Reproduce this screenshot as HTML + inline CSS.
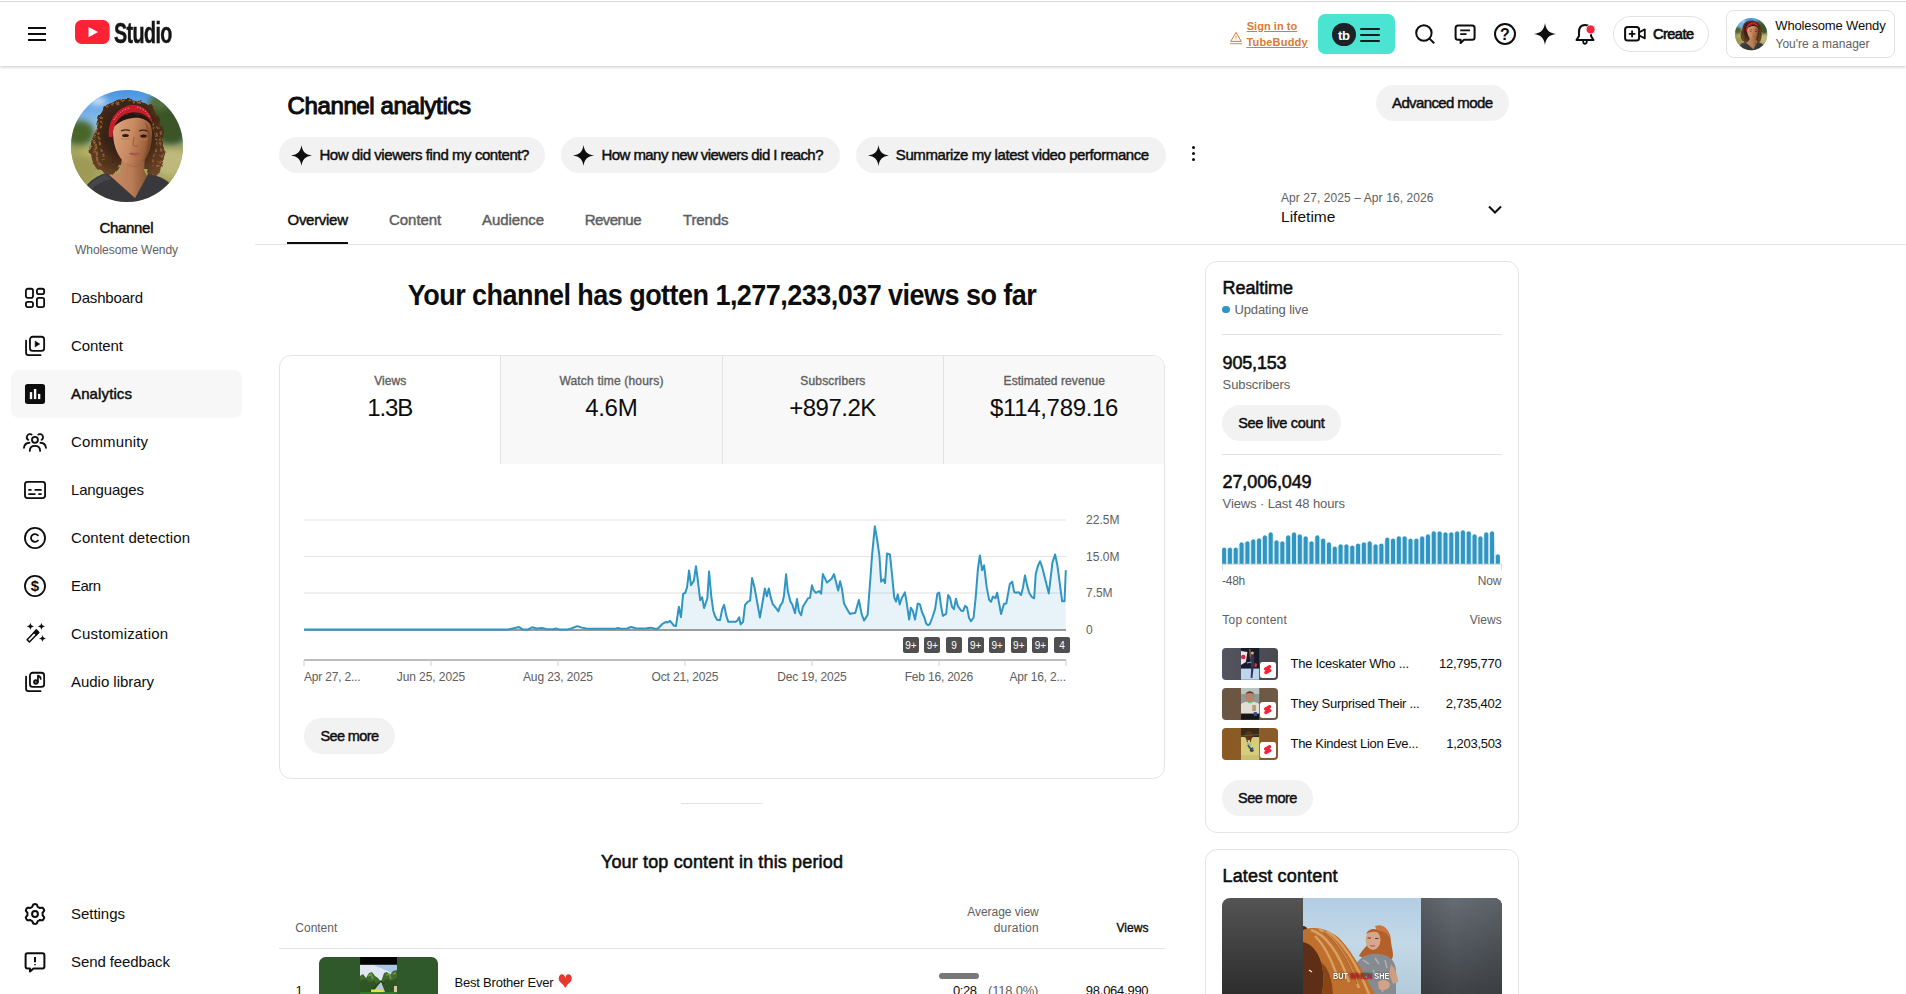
<!DOCTYPE html>
<html lang="en"><head><meta charset="utf-8"><title>Channel analytics - YouTube Studio</title>
<style>
html,body{margin:0;padding:0}
html{overflow:hidden}
body{width:1906px;height:994px;overflow:hidden;background:#fff;position:relative;
 font-family:"Liberation Sans",sans-serif;color:#0d0d0d;}
.t{position:absolute;white-space:nowrap;line-height:normal;margin:0;padding:0}
.a{position:absolute}
.pill{position:absolute;background:#f2f2f2;border-radius:18px}
.card{position:absolute;border:1px solid #e4e4e4;border-radius:12px;box-sizing:border-box;background:#fff}
.hl{position:absolute;height:1px;background:#e2e2e2}
svg{position:absolute;overflow:visible}
.ic{fill:none;stroke:#0d0d0d;stroke-width:1.6;stroke-linecap:round;stroke-linejoin:round}
</style></head><body>

<div class="a" style="left:0;top:0;width:1906px;height:66px;background:#fff;box-shadow:0 1px 3px rgba(0,0,0,.22);"></div>
<div class="a" style="left:0;top:1px;width:1906px;height:1px;background:#dadada"></div>
<div class="a" style="left:28px;top:27px;width:18px;height:2px;background:#0d0d0d"></div>
<div class="a" style="left:28px;top:33px;width:18px;height:2px;background:#0d0d0d"></div>
<div class="a" style="left:28px;top:39px;width:18px;height:2px;background:#0d0d0d"></div>
<svg style="left:75px;top:20px" width="35" height="24" viewBox="0 0 35 24"><rect x="0" y="0" width="34.6" height="24" rx="6.5" ry="6.5" fill="#fd2335"/><path d="M13.5 7 L23 12 L13.5 17.2 Z" fill="#fff"/></svg>
<div class="t" id="studio" style="top:17px;font-size:29px;font-weight:700;color:#151515;letter-spacing:-0.864px;left:113.8px;transform-origin:0 50%;transform:scaleX(0.68);-webkit-text-stroke:0.5px #151515;">Studio</div>
<div class="t" id="tb1" style="top:19.6px;font-size:11px;font-weight:700;color:#dc7a31;letter-spacing:0.055px;left:1246.7px;text-decoration:underline;text-underline-offset:1px;">Sign in to</div>
<div class="t" id="tb2" style="top:35.6px;font-size:11px;font-weight:700;color:#dc7a31;letter-spacing:0.189px;left:1246.4px;text-decoration:underline;text-underline-offset:1px;">TubeBuddy</div>
<svg style="left:1229px;top:30px" width="14" height="14" viewBox="0 0 14 14"><path d="M7 2.400 L12.300 11.400 H1.700 Z" fill="none" stroke="#dc7a31" stroke-width="1" stroke-linejoin="round"/><path d="M7 5.600 V8.400 M7 9.400 V10.100" stroke="#dc7a31" stroke-width="0.900" fill="none"/><path d="M1 13.700 H13" stroke="#dc7a31" stroke-width="0.900"/></svg>
<div class="a" style="left:1318px;top:14px;width:77px;height:40px;border-radius:7px;background:#4be3d1"></div>
<div class="a" style="left:1332px;top:22.600px;width:23.800px;height:23.800px;border-radius:12px;background:#1d2226"></div>
<div class="t" id="tbl" style="top:27.6px;font-size:13px;font-weight:700;color:#fff;letter-spacing:-0.281px;left:1338px;">tb</div>
<div class="a" style="left:1360px;top:28px;width:20px;height:2px;border-radius:1px;background:#1c1c1c"></div>
<div class="a" style="left:1360px;top:34px;width:20px;height:2px;border-radius:1px;background:#1c1c1c"></div>
<div class="a" style="left:1360px;top:40px;width:20px;height:2px;border-radius:1px;background:#1c1c1c"></div>
<svg style="left:1413px;top:22px" width="24" height="24" viewBox="0 0 24 24"><circle cx="10.900" cy="11" r="7.700" class="ic" style="stroke-width:2"/><path d="M16.500 16.600 L21.200 21.200" class="ic" style="stroke-width:2;stroke-linecap:butt"/></svg>
<svg style="left:1453px;top:22px" width="24" height="24" viewBox="0 0 24 24"><path d="M5 3.500 H19.200 Q21.600 3.500 21.600 6 V15.200 Q21.600 17.700 19.200 17.700 H11 L7.600 21 V17.700 H5 Q2.600 17.700 2.600 15.200 V6 Q2.600 3.500 5 3.500 Z" class="ic" style="stroke-width:2"/><path d="M7.200 8.400 H17 M7.200 12.100 H13.500" class="ic" style="stroke-width:1.900;stroke-linecap:butt"/></svg>
<svg style="left:1493px;top:22px" width="24" height="24" viewBox="0 0 24 24"><circle cx="12" cy="12" r="10" class="ic" style="stroke-width:2"/></svg>
<div class="t" id="q" style="top:26px;font-size:16px;font-weight:700;left:1505px;transform:translateX(-50%);">?</div>
<svg style="left:1533px;top:22px" width="24" height="24" viewBox="0 0 24 24"><path d="M12 1 C13 8 16 11 23 12 C16 13 13 16 12 23 C11 16 8 13 1 12 C8 11 11 8 12 1 Z" fill="#0d0d0d"/></svg>
<svg style="left:1573px;top:22px" width="24" height="24" viewBox="0 0 24 24"><path d="M12 3 C8 3 6 6 6 10 V14 L3.5 18 H20.5 L18 14 V10 C18 6 16 3 12 3 Z" class="ic" style="stroke-width:2"/><path d="M10.200 19.500 Q10.300 21.800 12 21.800 Q13.700 21.800 13.800 19.500" class="ic" style="stroke-width:1.800"/><circle cx="17.600" cy="7.400" r="4.500" fill="#f8243c" stroke="#fff" stroke-width="0.800"/></svg>
<div class="a" style="left:1613px;top:16px;width:96px;height:36px;border-radius:18px;border:1px solid #e2e2e2;box-sizing:border-box"></div>
<svg style="left:1623px;top:23px" width="26" height="22" viewBox="0 0 26 22"><rect x="2.100" y="4.100" width="14" height="13.500" rx="2.600" class="ic" style="stroke-width:2"/><path d="M16.300 9.300 L21.800 6.400 V15.400 L16.300 12.500" class="ic" style="stroke-width:1.800"/><path d="M9.100 7.600 V14.200 M5.800 10.900 H12.400" class="ic" style="stroke-width:1.900;stroke-linecap:butt"/></svg>
<div class="t" id="create" style="top:26px;font-size:14.5px;-webkit-text-stroke:0.65px;letter-spacing:-0.506px;left:1653px;">Create</div>
<div class="a" style="left:1726px;top:10px;width:169px;height:48px;border-radius:8px;border:1px solid #e2e2e2;box-sizing:border-box"></div>
<div class="t" id="acc1" style="top:18.4px;font-size:13px;letter-spacing:-0.149px;left:1775.3px;">Wholesome Wendy</div>
<div class="t" id="acc2" style="top:36.8px;font-size:12px;color:#606060;letter-spacing:0.005px;left:1775.5px;">You&#x27;re a manager</div>
<svg style="left:1734.5px;top:18px" width="32.3" height="32.3" viewBox="4 4 112 112">
<defs><clipPath id="chdav"><circle cx="60" cy="60" r="56"/></clipPath>
<filter id="bhdav" x="-10%" y="-10%" width="120%" height="120%"><feGaussianBlur stdDeviation="0.7"/></filter>
<filter id="bbhdav" x="-20%" y="-20%" width="140%" height="140%"><feGaussianBlur stdDeviation="3"/></filter>
<filter id="cuhdav" x="-10%" y="-10%" width="120%" height="120%"><feTurbulence type="fractalNoise" baseFrequency="0.11" numOctaves="2" seed="7" result="n"/><feDisplacementMap in="SourceGraphic" in2="n" scale="7" xChannelSelector="R" yChannelSelector="G"/><feGaussianBlur stdDeviation="0.45"/></filter>
<linearGradient id="skhdav" x1="0" y1="0" x2="0" y2="1"><stop offset="0" stop-color="#3f8ee0"/><stop offset="0.22" stop-color="#74b0ea"/><stop offset="0.42" stop-color="#b4d3f0"/><stop offset="0.52" stop-color="#93a45a"/><stop offset="1" stop-color="#a9a660"/></linearGradient>
<radialGradient id="hrhdav" cx="0.5" cy="0.4" r="0.65"><stop offset="0" stop-color="#1f120b"/><stop offset="0.55" stop-color="#3f2616"/><stop offset="1" stop-color="#6b4226"/></radialGradient>
<linearGradient id="fchdav" x1="0" y1="0.2" x2="1" y2="0.5"><stop offset="0" stop-color="#dca57e"/><stop offset="0.5" stop-color="#c78961"/><stop offset="0.85" stop-color="#a2643f"/><stop offset="1" stop-color="#7d4a2c"/></linearGradient>
<linearGradient id="nkhdav" x1="0" y1="0" x2="1" y2="0"><stop offset="0" stop-color="#c88e68"/><stop offset="0.6" stop-color="#b97c55"/><stop offset="1" stop-color="#8a5535"/></linearGradient>
</defs>
<g clip-path="url(#chdav)">
<rect x="0" y="0" width="120" height="120" fill="url(#skhdav)"/>
<g filter="url(#bbhdav)">
<ellipse cx="104" cy="30" rx="24" ry="30" fill="#3a5426"/>
<ellipse cx="92" cy="16" rx="10" ry="8" fill="#55703a"/>
<ellipse cx="12" cy="47" rx="16" ry="13" fill="#48662a"/>
<ellipse cx="31" cy="15" rx="9" ry="3.500" fill="#e6eef8"/>
<rect x="0" y="62" width="120" height="44" fill="#a6a55c"/>
<ellipse cx="104" cy="76" rx="18" ry="14" fill="#bdb97c"/>
<ellipse cx="14" cy="84" rx="14" ry="16" fill="#9c9a55"/>
<ellipse cx="22" cy="66" rx="10" ry="5" fill="#b6b26a"/>
</g>
<g filter="url(#cuhdav)">
<path d="M60 13 C42 12 30 26 29 44 C21 56 22 76 32 85 C40 92 50 89 53 80 L79 82 C81 94 90 93 93 82 C99 66 98 46 93 36 C89 22 77 13 60 13 Z" fill="url(#hrhdav)"/>
<path d="M31 38 C26 50 26 66 33 78 M36 30 C31 42 31 60 37 74 M91 40 C96 54 95 70 90 82 M86 36 C91 50 90 68 86 80 M40 22 C48 14 62 13 74 17 M28 56 C27 64 30 74 36 82" stroke="#a36c38" stroke-width="2.200" fill="none" opacity=".75" stroke-dasharray="3 2.500"/>
</g>
<g filter="url(#bhdav)">
<path d="M55 72 L53 86 L42 90 L68 112 L80 90 L77 84 L78 70 Z" fill="url(#nkhdav)"/>
<path d="M20 99 C26 92 34 88 40 87 L68 112 L81 88 C90 89 100 93 105 100 L112 120 L8 120 Z" fill="#39393c"/>
<path d="M22 99 C28 93 34 90 39 88 L44 93 C36 95 28 99 24 104 Z" fill="#47474b"/>
<path d="M46 45 C46 33 56 27 68 28 C78 29 85 35 85 47 C85 59 82 70 75 77 C69 82 61 81 56 75 C49 67 46 57 46 45 Z" fill="url(#fchdav)"/>
<path d="M46 42 C48 32 57 27 68 28 C77 28 83 33 85 40 C80 33 73 31 66 32 C57 33 50 37 46 42 Z" fill="#24150d"/>
<path d="M42 51 C40 37 49 21 64 19 C76 18 84 26 86 38 C82 30 74 25 64 26.500 C52 28.500 46 38 45.500 51 Z" fill="#c31f2b"/>
<path d="M47 34 C51 27 57 23 63 22 M70 21 C76 22 81 27 83 32" stroke="#e8a0a0" stroke-width="0.800" fill="none" stroke-dasharray="1.500 1.500"/>
<path d="M54 45 C57 43.500 60 43.500 63 44.500 M72 45 C75 43.800 78 44 81 45.500" stroke="#3a2216" stroke-width="1.300" fill="none"/>
<ellipse cx="58.500" cy="49.600" rx="3.300" ry="1.500" fill="#2a1810"/><ellipse cx="76.500" cy="50" rx="3.200" ry="1.500" fill="#2a1810"/><path d="M54 52.500 Q58.500 54 63 52.500 M72 53 Q76.500 54.500 81 53" stroke="#b07858" stroke-width="0.900" fill="none"/>
<path d="M67 51 L66 59 Q68 61.500 71 59.500" stroke="#9c5f40" stroke-width="1.100" fill="none"/>
<path d="M61.500 67.500 Q64.500 66 67.500 67 Q70.500 66 74 67.500 Q68 72 61.500 67.500 Z" fill="#a9584f"/>
<path d="M78 36 C86 44 86 62 76 76 C82 64 82 48 78 36 Z" fill="#7a4628" opacity=".55"/><path d="M60 78 Q68 84 76 77" stroke="#9c6040" stroke-width="1" fill="none" opacity=".6"/>
</g></g></svg>
<svg style="left:71px;top:90px" width="112" height="112" viewBox="4 4 112 112">
<defs><clipPath id="csdav"><circle cx="60" cy="60" r="56"/></clipPath>
<filter id="bsdav" x="-10%" y="-10%" width="120%" height="120%"><feGaussianBlur stdDeviation="0.7"/></filter>
<filter id="bbsdav" x="-20%" y="-20%" width="140%" height="140%"><feGaussianBlur stdDeviation="3"/></filter>
<filter id="cusdav" x="-10%" y="-10%" width="120%" height="120%"><feTurbulence type="fractalNoise" baseFrequency="0.11" numOctaves="2" seed="7" result="n"/><feDisplacementMap in="SourceGraphic" in2="n" scale="7" xChannelSelector="R" yChannelSelector="G"/><feGaussianBlur stdDeviation="0.45"/></filter>
<linearGradient id="sksdav" x1="0" y1="0" x2="0" y2="1"><stop offset="0" stop-color="#3f8ee0"/><stop offset="0.22" stop-color="#74b0ea"/><stop offset="0.42" stop-color="#b4d3f0"/><stop offset="0.52" stop-color="#93a45a"/><stop offset="1" stop-color="#a9a660"/></linearGradient>
<radialGradient id="hrsdav" cx="0.5" cy="0.4" r="0.65"><stop offset="0" stop-color="#1f120b"/><stop offset="0.55" stop-color="#3f2616"/><stop offset="1" stop-color="#6b4226"/></radialGradient>
<linearGradient id="fcsdav" x1="0" y1="0.2" x2="1" y2="0.5"><stop offset="0" stop-color="#dca57e"/><stop offset="0.5" stop-color="#c78961"/><stop offset="0.85" stop-color="#a2643f"/><stop offset="1" stop-color="#7d4a2c"/></linearGradient>
<linearGradient id="nksdav" x1="0" y1="0" x2="1" y2="0"><stop offset="0" stop-color="#c88e68"/><stop offset="0.6" stop-color="#b97c55"/><stop offset="1" stop-color="#8a5535"/></linearGradient>
</defs>
<g clip-path="url(#csdav)">
<rect x="0" y="0" width="120" height="120" fill="url(#sksdav)"/>
<g filter="url(#bbsdav)">
<ellipse cx="104" cy="30" rx="24" ry="30" fill="#3a5426"/>
<ellipse cx="92" cy="16" rx="10" ry="8" fill="#55703a"/>
<ellipse cx="12" cy="47" rx="16" ry="13" fill="#48662a"/>
<ellipse cx="31" cy="15" rx="9" ry="3.500" fill="#e6eef8"/>
<rect x="0" y="62" width="120" height="44" fill="#a6a55c"/>
<ellipse cx="104" cy="76" rx="18" ry="14" fill="#bdb97c"/>
<ellipse cx="14" cy="84" rx="14" ry="16" fill="#9c9a55"/>
<ellipse cx="22" cy="66" rx="10" ry="5" fill="#b6b26a"/>
</g>
<g filter="url(#cusdav)">
<path d="M60 13 C42 12 30 26 29 44 C21 56 22 76 32 85 C40 92 50 89 53 80 L79 82 C81 94 90 93 93 82 C99 66 98 46 93 36 C89 22 77 13 60 13 Z" fill="url(#hrsdav)"/>
<path d="M31 38 C26 50 26 66 33 78 M36 30 C31 42 31 60 37 74 M91 40 C96 54 95 70 90 82 M86 36 C91 50 90 68 86 80 M40 22 C48 14 62 13 74 17 M28 56 C27 64 30 74 36 82" stroke="#a36c38" stroke-width="2.200" fill="none" opacity=".75" stroke-dasharray="3 2.500"/>
</g>
<g filter="url(#bsdav)">
<path d="M55 72 L53 86 L42 90 L68 112 L80 90 L77 84 L78 70 Z" fill="url(#nksdav)"/>
<path d="M20 99 C26 92 34 88 40 87 L68 112 L81 88 C90 89 100 93 105 100 L112 120 L8 120 Z" fill="#39393c"/>
<path d="M22 99 C28 93 34 90 39 88 L44 93 C36 95 28 99 24 104 Z" fill="#47474b"/>
<path d="M46 45 C46 33 56 27 68 28 C78 29 85 35 85 47 C85 59 82 70 75 77 C69 82 61 81 56 75 C49 67 46 57 46 45 Z" fill="url(#fcsdav)"/>
<path d="M46 42 C48 32 57 27 68 28 C77 28 83 33 85 40 C80 33 73 31 66 32 C57 33 50 37 46 42 Z" fill="#24150d"/>
<path d="M42 51 C40 37 49 21 64 19 C76 18 84 26 86 38 C82 30 74 25 64 26.500 C52 28.500 46 38 45.500 51 Z" fill="#c31f2b"/>
<path d="M47 34 C51 27 57 23 63 22 M70 21 C76 22 81 27 83 32" stroke="#e8a0a0" stroke-width="0.800" fill="none" stroke-dasharray="1.500 1.500"/>
<path d="M54 45 C57 43.500 60 43.500 63 44.500 M72 45 C75 43.800 78 44 81 45.500" stroke="#3a2216" stroke-width="1.300" fill="none"/>
<ellipse cx="58.500" cy="49.600" rx="3.300" ry="1.500" fill="#2a1810"/><ellipse cx="76.500" cy="50" rx="3.200" ry="1.500" fill="#2a1810"/><path d="M54 52.500 Q58.500 54 63 52.500 M72 53 Q76.500 54.500 81 53" stroke="#b07858" stroke-width="0.900" fill="none"/>
<path d="M67 51 L66 59 Q68 61.500 71 59.500" stroke="#9c5f40" stroke-width="1.100" fill="none"/>
<path d="M61.500 67.500 Q64.500 66 67.500 67 Q70.500 66 74 67.500 Q68 72 61.500 67.500 Z" fill="#a9584f"/>
<path d="M78 36 C86 44 86 62 76 76 C82 64 82 48 78 36 Z" fill="#7a4628" opacity=".55"/><path d="M60 78 Q68 84 76 77" stroke="#9c6040" stroke-width="1" fill="none" opacity=".6"/>
</g></g></svg>
<div class="t" id="chn" style="top:219px;font-size:15px;-webkit-text-stroke:0.45px;letter-spacing:-0.315px;left:126.343px;transform:translateX(-50%);">Channel</div>
<div class="t" id="chn2" style="top:243px;font-size:12px;color:#606060;letter-spacing:-0.059px;left:126.471px;transform:translateX(-50%);">Wholesome Wendy</div>
<div class="a" style="left:11px;top:370px;width:231px;height:48px;border-radius:8px;background:#f7f7f7"></div>
<div class="t" id="sd0" style="top:289px;font-size:15px;letter-spacing:-0.174px;left:71px;">Dashboard</div>
<div class="t" id="sd1" style="top:337px;font-size:15px;letter-spacing:-0.091px;left:71px;">Content</div>
<div class="t" id="sd2" style="top:385px;font-size:15px;-webkit-text-stroke:0.45px;letter-spacing:0.121px;left:71px;">Analytics</div>
<div class="t" id="sd3" style="top:433px;font-size:15px;letter-spacing:0.143px;left:71px;">Community</div>
<div class="t" id="sd4" style="top:481px;font-size:15px;letter-spacing:-0.156px;left:71px;">Languages</div>
<div class="t" id="sd5" style="top:529px;font-size:15px;letter-spacing:0.088px;left:71px;">Content detection</div>
<div class="t" id="sd6" style="top:577px;font-size:15px;letter-spacing:-0.562px;left:71px;">Earn</div>
<div class="t" id="sd7" style="top:625px;font-size:15px;letter-spacing:0.163px;left:71px;">Customization</div>
<div class="t" id="sd8" style="top:673px;font-size:15px;letter-spacing:-0.031px;left:71px;">Audio library</div>
<div class="t" id="sd9" style="top:905px;font-size:15px;letter-spacing:-0.029px;left:71px;">Settings</div>
<div class="t" id="sd10" style="top:953px;font-size:15px;letter-spacing:-0.090px;left:71px;">Send feedback</div>
<svg style="left:23px;top:286px" width="24" height="24" viewBox="0 0 24 24"><rect x="2.900" y="2.750" width="7.100" height="9.200" rx="1.900" class="ic" style="stroke-width:1.8"/><rect x="2.900" y="15.850" width="7.100" height="5.300" rx="1.900" class="ic" style="stroke-width:1.8"/><rect x="13.900" y="2.750" width="7.250" height="5.300" rx="1.900" class="ic" style="stroke-width:1.8"/><rect x="13.900" y="11.950" width="7.250" height="9.200" rx="1.900" class="ic" style="stroke-width:1.8"/></svg>
<svg style="left:23px;top:334px" width="24" height="24" viewBox="0 0 24 24"><rect x="6.950" y="2.750" width="14.200" height="14.200" rx="2.700" class="ic" style="stroke-width:1.8"/><path d="M3.050 6.600 V18.800 Q3.050 21.150 5.400 21.150 H17.500" class="ic" style="stroke-width:1.8"/><path d="M12.100 7.100 L16.800 10 L12.100 12.900 Z" fill="#0d0d0d" stroke="#0d0d0d" stroke-width="0.500" stroke-linejoin="round"/></svg>
<svg style="left:23px;top:382px" width="24" height="24" viewBox="0 0 24 24"><rect x="1.980" y="1.980" width="20.070" height="19.920" rx="2.700" fill="#0d0d0d"/><rect x="6.800" y="10.100" width="2.400" height="7" fill="#fff"/><rect x="10.900" y="7" width="2.400" height="10.100" fill="#fff"/><rect x="15" y="11.900" width="2.300" height="5.200" fill="#fff"/></svg>
<svg style="left:23px;top:430px" width="24" height="24" viewBox="0 0 24 24"><circle cx="11.950" cy="9.850" r="3" class="ic" style="stroke-width:1.8"/><path d="M6.800 20.900 C6.800 17.600 9 15.850 11.950 15.850 C14.900 15.850 17.100 17.600 17.100 20.900" class="ic" style="stroke-width:1.8"/><path d="M8.600 4.500 A2.900 2.900 0 1 0 5.400 9.900" class="ic" style="stroke-width:1.8"/><path d="M15.300 4.500 A2.900 2.900 0 1 1 18.500 9.900" class="ic" style="stroke-width:1.8"/><path d="M0.950 17.800 C1.300 14.600 3.400 12.900 6.500 12.750" class="ic" style="stroke-width:1.8"/><path d="M22.950 17.800 C22.600 14.600 20.500 12.900 17.400 12.750" class="ic" style="stroke-width:1.8"/></svg>
<svg style="left:23px;top:478px" width="24" height="24" viewBox="0 0 24 24"><rect x="1.970" y="3.800" width="20.100" height="16.300" rx="2.500" class="ic" style="stroke-width:1.8"/><path d="M6 11.950 H7.900 M12.200 11.950 H18 M6 16.050 H11.850 M15.950 16.050 H18" class="ic" style="stroke-width:1.700"/></svg>
<svg style="left:23px;top:526px" width="24" height="24" viewBox="0 0 24 24"><circle cx="12" cy="12" r="10.050" class="ic" style="stroke-width:1.8"/><path d="M14.900 9.400 A3.900 3.900 0 1 0 14.900 14.500" class="ic" style="stroke-width:1.8"/></svg>
<svg style="left:23px;top:574px" width="24" height="24" viewBox="0 0 24 24"><circle cx="12" cy="12" r="10.050" class="ic" style="stroke-width:1.8"/></svg>
<div class="t" id="earnd" style="top:576.8px;font-size:15px;font-weight:700;left:35px;transform:translateX(-50%);">$</div>
<svg style="left:23px;top:622px" width="24" height="24" viewBox="0 0 24 24"><path d="M13.350 8.100 L15.650 10.500 L6.400 19.950 L4.100 17.650 Z" class="ic" style="stroke-width:1.500"/><path d="M13.350 8.100 L15.650 10.500 L13.400 12.800 L11.100 10.400 Z" fill="#0d0d0d" stroke="#0d0d0d" stroke-width="1.500" stroke-linejoin="round"/><path d="M7.4 0.85 C8.02 3.3 8.5 3.78 10.95 4.4 C8.5 5.02 8.02 5.5 7.4 7.95 C6.78 5.5 6.3 5.02 3.85 4.4 C6.3 3.78 6.78 3.3 7.4 0.85 Z" fill="#0d0d0d"/><path d="M18.45 0.85 C19.07 3.3 19.55 3.78 22 4.4 C19.55 5.02 19.07 5.5 18.45 7.95 C17.83 5.5 17.35 5.02 14.9 4.4 C17.35 3.78 17.83 3.3 18.45 0.85 Z" fill="#0d0d0d"/><path d="M19.5 12.9 C20.12 15.35 20.6 15.83 23.05 16.45 C20.6 17.07 20.12 17.55 19.5 20 C18.88 17.55 18.4 17.07 15.95 16.45 C18.4 15.83 18.88 15.35 19.5 12.9 Z" fill="#0d0d0d"/></svg>
<svg style="left:23px;top:670px" width="24" height="24" viewBox="0 0 24 24"><rect x="6.950" y="2.750" width="14.200" height="14.200" rx="2.700" class="ic" style="stroke-width:1.8"/><path d="M3.050 6.600 V18.800 Q3.050 21.150 5.400 21.150 H17.500" class="ic" style="stroke-width:1.8"/><circle cx="12.850" cy="11.950" r="1.850" class="ic" style="stroke-width:1.700;fill:#777"/><path d="M14.950 12 V5.600 C16.600 6.100 17.700 7.200 17.700 8.900" class="ic" style="stroke-width:1.700"/></svg>
<svg style="left:23px;top:902px" width="24" height="24" viewBox="0 0 24 24"><path d="M12.00 2.10 L12.86 2.14 L13.70 2.36 L14.26 3.55 L14.64 4.75 L15.21 5.11 L15.80 5.42 L16.36 5.77 L16.96 6.09 L18.19 5.81 L19.50 5.71 L20.11 6.32 L20.57 7.05 L20.97 7.82 L21.19 8.65 L20.45 9.74 L19.60 10.66 L19.57 11.34 L19.60 12.00 L19.57 12.66 L19.60 13.34 L20.45 14.26 L21.19 15.35 L20.97 16.18 L20.57 16.95 L20.11 17.68 L19.50 18.29 L18.19 18.19 L16.96 17.91 L16.36 18.23 L15.80 18.58 L15.21 18.89 L14.64 19.25 L14.26 20.45 L13.70 21.64 L12.86 21.86 L12.00 21.90 L11.14 21.86 L10.30 21.64 L9.74 20.45 L9.36 19.25 L8.79 18.89 L8.20 18.58 L7.64 18.23 L7.04 17.91 L5.81 18.19 L4.50 18.29 L3.89 17.68 L3.43 16.95 L3.03 16.18 L2.81 15.35 L3.55 14.26 L4.40 13.34 L4.43 12.66 L4.40 12.00 L4.43 11.34 L4.40 10.66 L3.55 9.74 L2.81 8.65 L3.03 7.82 L3.43 7.05 L3.89 6.32 L4.50 5.71 L5.81 5.81 L7.04 6.09 L7.64 5.77 L8.20 5.42 L8.79 5.11 L9.36 4.75 L9.74 3.55 L10.30 2.36 L11.14 2.14 Z" class="ic" style="stroke-width:2"/><circle cx="12" cy="12" r="2.900" class="ic" style="stroke-width:2"/></svg>
<svg style="left:23px;top:950px" width="24" height="24" viewBox="0 0 24 24"><path d="M4.500 3.300 H19.500 Q21.400 3.300 21.400 5.200 V16.500 Q21.400 18.400 19.500 18.400 H10.500 L7 21.600 V18.400 H4.500 Q2.600 18.400 2.600 16.500 V5.200 Q2.600 3.300 4.500 3.300 Z" class="ic" style="stroke-width:2"/><path d="M12 7 V12.300 M12 14.300 V15.300" class="ic" style="stroke-width:2;stroke-linecap:butt"/></svg>
<div class="t" id="title" style="top:92.3px;font-size:24px;-webkit-text-stroke:1.08px;letter-spacing:-0.372px;left:287.5px;">Channel analytics</div>
<div class="pill" style="left:279px;top:137px;width:266px;height:36px"></div>
<svg style="left:290.5px;top:144.500px" width="21" height="21" viewBox="0 0 21 21"><path d="M10.500 0 C11.300 6.500 14.500 9.700 21 10.500 C14.500 11.300 11.300 14.500 10.500 21 C9.700 14.500 6.500 11.300 0 10.500 C6.500 9.700 9.700 6.500 10.500 0 Z" fill="#0d0d0d"/></svg>
<div class="t" id="chip0" style="top:145.7px;font-size:15px;-webkit-text-stroke:0.45px;letter-spacing:-0.433px;left:319.4px;">How did viewers find my content?</div>
<div class="pill" style="left:561px;top:137px;width:279px;height:36px"></div>
<svg style="left:572.5px;top:144.500px" width="21" height="21" viewBox="0 0 21 21"><path d="M10.500 0 C11.300 6.500 14.500 9.700 21 10.500 C14.500 11.300 11.300 14.500 10.500 21 C9.700 14.500 6.500 11.300 0 10.500 C6.500 9.700 9.700 6.500 10.500 0 Z" fill="#0d0d0d"/></svg>
<div class="t" id="chip1" style="top:145.7px;font-size:15px;-webkit-text-stroke:0.45px;letter-spacing:-0.566px;left:601.5px;">How many new viewers did I reach?</div>
<div class="pill" style="left:856px;top:137px;width:310px;height:36px"></div>
<svg style="left:867.5px;top:144.500px" width="21" height="21" viewBox="0 0 21 21"><path d="M10.500 0 C11.300 6.500 14.500 9.700 21 10.500 C14.500 11.300 11.300 14.500 10.500 21 C9.700 14.500 6.500 11.300 0 10.500 C6.500 9.700 9.700 6.500 10.500 0 Z" fill="#0d0d0d"/></svg>
<div class="t" id="chip2" style="top:145.7px;font-size:15px;-webkit-text-stroke:0.45px;letter-spacing:-0.418px;left:895.8px;">Summarize my latest video performance</div>
<div class="a" style="left:1192px;top:145.7px;width:3.200px;height:3.200px;border-radius:2px;background:#0d0d0d"></div>
<div class="a" style="left:1192px;top:151.8px;width:3.200px;height:3.200px;border-radius:2px;background:#0d0d0d"></div>
<div class="a" style="left:1192px;top:157.8px;width:3.200px;height:3.200px;border-radius:2px;background:#0d0d0d"></div>
<div class="pill" style="left:1376px;top:85px;width:133px;height:36px"></div>
<div class="t" id="adv" style="top:93.5px;font-size:15px;-webkit-text-stroke:0.45px;letter-spacing:-0.617px;left:1392px;">Advanced mode</div>
<div class="t" id="date" style="top:190.5px;font-size:12px;color:#606060;letter-spacing:0.091px;left:1281px;">Apr 27, 2025 – Apr 16, 2026</div>
<div class="t" id="life" style="top:208px;font-size:15.5px;letter-spacing:0.017px;left:1281px;">Lifetime</div>
<svg style="left:1485px;top:200px" width="20" height="18" viewBox="0 0 20 18"><path d="M4 6.500 L10 12.500 L16 6.500" class="ic" style="stroke-width:2;stroke-linecap:butt;stroke-linejoin:miter"/></svg>
<div class="t" id="tab0" style="top:211px;font-size:15px;-webkit-text-stroke:0.45px;letter-spacing:-0.288px;left:287.5px;">Overview</div>
<div class="t" id="tab1" style="top:211px;font-size:15px;-webkit-text-stroke:0.45px;color:#606060;letter-spacing:-0.041px;left:389px;">Content</div>
<div class="t" id="tab2" style="top:211px;font-size:15px;-webkit-text-stroke:0.45px;color:#606060;letter-spacing:-0.080px;left:482px;">Audience</div>
<div class="t" id="tab3" style="top:211px;font-size:15px;-webkit-text-stroke:0.45px;color:#606060;letter-spacing:-0.541px;left:584.7px;">Revenue</div>
<div class="t" id="tab4" style="top:211px;font-size:15px;-webkit-text-stroke:0.45px;color:#606060;letter-spacing:-0.148px;left:683px;">Trends</div>
<div class="hl" style="left:255px;top:244px;width:1651px;background:#e3e3e3"></div>
<div class="a" style="left:287.300px;top:242px;width:60.600px;height:2px;background:#0d0d0d"></div>
<div class="t" id="headline" style="top:278.4px;font-size:30px;font-weight:700;letter-spacing:-0.596px;left:721.632px;transform:translateX(-50%) scaleX(0.9);">Your channel has gotten 1,277,233,037 views so far</div>
<div class="card" style="left:279px;top:355px;width:886px;height:424px;overflow:hidden">
<div class="a" style="left:220px;top:0;width:223px;height:107.500px;background:#f8f8f8;border-left:1px solid #e2e2e2;box-sizing:border-box"></div>
<div class="a" style="left:442px;top:0;width:223px;height:107.500px;background:#f8f8f8;border-left:1px solid #e2e2e2;box-sizing:border-box"></div>
<div class="a" style="left:663px;top:0;width:223px;height:107.500px;background:#f8f8f8;border-left:1px solid #e2e2e2;box-sizing:border-box"></div>
</div>
<div class="t" id="ml0" style="top:374px;font-size:12px;-webkit-text-stroke:0.36px;color:#606060;letter-spacing:0.051px;left:390.226px;transform:translateX(-50%);">Views</div>
<div class="t" id="mv0" style="top:394px;font-size:24px;letter-spacing:-1.125px;left:389.637px;transform:translateX(-50%);">1.3B</div>
<div class="t" id="ml1" style="top:374px;font-size:12px;-webkit-text-stroke:0.36px;color:#606060;letter-spacing:0.181px;left:611.49px;transform:translateX(-50%);">Watch time (hours)</div>
<div class="t" id="mv1" style="top:394px;font-size:24px;letter-spacing:-0.286px;left:611.257px;transform:translateX(-50%);">4.6M</div>
<div class="t" id="ml2" style="top:374px;font-size:12px;-webkit-text-stroke:0.36px;color:#606060;letter-spacing:0.164px;left:832.882px;transform:translateX(-50%);">Subscribers</div>
<div class="t" id="mv2" style="top:394px;font-size:24px;letter-spacing:-0.516px;left:832.542px;transform:translateX(-50%);">+897.2K</div>
<div class="t" id="ml3" style="top:374px;font-size:12px;-webkit-text-stroke:0.36px;color:#606060;letter-spacing:0.077px;left:1054.24px;transform:translateX(-50%);">Estimated revenue</div>
<div class="t" id="mv3" style="top:394px;font-size:24px;letter-spacing:-0.329px;left:1054.04px;transform:translateX(-50%);">$114,789.16</div>
<svg style="left:0;top:0" width="1906" height="994" viewBox="0 0 1906 994"><rect x="304" y="519.4" width="762" height="1.200" fill="#e6e6e6"/><rect x="304" y="555.9" width="762" height="1.200" fill="#e6e6e6"/><rect x="304" y="592.4" width="762" height="1.200" fill="#e6e6e6"/><path d="M304.15 629.6 L507.89 629.6 L513.93 628.24 L519.06 627.04 L522.98 629.6 L527.51 629.6 L532.04 627.34 L536.57 628.55 L542 627.94 L547.13 629.15 L553.17 629.15 L556.18 628.55 L559.2 629.6 L566.75 629.6 L571.28 628.55 L577.31 626.13 L581.84 627.64 L586.37 628.55 L593.91 628.85 L615.04 628.85 L618.06 627.94 L621.68 628.85 L627.12 628.55 L631.04 627.04 L635.57 628.24 L640.7 628.55 L646.74 628.24 L650.66 627.64 L654.28 628.55 L657.66 628.76 L662.89 623.53 L666.16 621.83 L667.47 622.48 L670.08 620.91 L674.01 625.75 L675.97 626.02 L678.85 606.79 L680.94 617.25 L683.16 593.71 L685.12 593.06 L687.09 587.17 L689.05 570.43 L691.01 585.21 L693.89 580.63 L695.98 566.24 L698.2 583.25 L700.17 600.25 L702.13 597.37 L704.09 608.1 L707.36 598.29 L709.06 571.47 L711.28 596.33 L713.25 610.71 L715.21 616.6 L717.17 619.87 L720.05 620.13 L722.14 609.4 L724.1 604.83 L726.33 615.94 L728.29 621.83 L735.48 621.83 L737.44 620.52 L739.14 617.25 L740.71 624.45 L743.07 621.83 L745.03 604.83 L747.91 601.56 L750.13 600.64 L752.09 578.01 L754.45 587.17 L757.06 601.56 L759.94 617.51 L764.91 588.48 L766.87 596.33 L768.83 588.48 L770.8 597.63 L772.76 604.17 L776.03 608.1 L778.38 611.37 L779.95 606.13 L782.57 602.21 L783.88 596.33 L786.1 574.35 L787.8 591.09 L790.42 601.56 L792.38 604.83 L794.99 613.33 L796.96 598.94 L798.92 611.37 L801.14 615.29 L802.84 606.79 L808.07 598.29 L810.03 597.89 L812 585.21 L813.3 589.79 L815.92 592.79 L819.19 591.09 L821.15 593.71 L822.85 574.09 L827.04 582.59 L831.62 578.67 L833.97 574.09 L838.16 590.44 L840.12 581.28 L842.08 589.79 L844.04 603.52 L847.97 610.71 L850 613.98 L851.96 613.33 L855.23 613.07 L858.89 599.99 L861.77 614.64 L864.13 620.52 L867.66 614.64 L869.62 588.48 L872.24 553.16 L874.85 526.35 L877.21 540.08 L879.43 555.78 L881.13 581.68 L883.35 579.32 L885.05 582.98 L887.02 553.56 L889.89 554.47 L891.85 572.78 L894.21 597.37 L896.04 601.56 L897.74 594.36 L899.7 604.43 L901.66 598.29 L904.93 592.4 L906.9 604.17 L909.12 619.61 L910.82 607.84 L912.78 610.71 L915.01 619.61 L917.75 603.52 L919.98 604.43 L921.94 612.02 L924.29 617.25 L926.25 623.79 L928.09 625.1 L929.79 624.05 L932.4 617.25 L935.02 609.4 L937.37 593.71 L939.2 592.66 L941.16 606.79 L942.87 615.94 L946.13 613.98 L948.1 595.02 L950.06 597.89 L952.02 606.79 L953.98 609.14 L955.94 598.68 L957.91 606.13 L961.18 610.71 L963.14 610.97 L965.1 605.87 L967.06 607.44 L969.02 617.91 L970.99 621.18 L973.6 617.51 L975.56 598.94 L977.92 568.86 L979.88 555.39 L982.1 570.17 L984.07 565.33 L986.68 587.17 L989.04 599.6 L991 601.82 L992.96 596.59 L995.45 598.29 L997.15 592.66 L999.11 603.52 L1001.07 613.98 L1004.08 603.78 L1006.3 603.52 L1009.83 583.9 L1012.19 581.68 L1014.15 592.14 L1016.11 592.79 L1018.73 592.14 L1021.08 595.02 L1023.04 587.17 L1025 575.4 L1027.23 585.86 L1029.19 592.66 L1031.81 596.98 L1034.16 598.29 L1035.73 574.09 L1038.08 565.59 L1040.05 561.27 L1042.27 567.55 L1044.89 578.01 L1048.81 593.45 L1052.47 562.32 L1055.09 554.47 L1057.31 564.93 L1059.93 584.55 L1062.15 601.3 L1064.51 601.3 L1065.81 570.17 L1065.81 630 L304 630 Z" fill="#3ea0cc" fill-opacity="0.12"/><rect x="304" y="629" width="762" height="2" fill="#9b9b9b"/><path d="M304.15 629.6 L507.89 629.6 L513.93 628.24 L519.06 627.04 L522.98 629.6 L527.51 629.6 L532.04 627.34 L536.57 628.55 L542 627.94 L547.13 629.15 L553.17 629.15 L556.18 628.55 L559.2 629.6 L566.75 629.6 L571.28 628.55 L577.31 626.13 L581.84 627.64 L586.37 628.55 L593.91 628.85 L615.04 628.85 L618.06 627.94 L621.68 628.85 L627.12 628.55 L631.04 627.04 L635.57 628.24 L640.7 628.55 L646.74 628.24 L650.66 627.64 L654.28 628.55 L657.66 628.76 L662.89 623.53 L666.16 621.83 L667.47 622.48 L670.08 620.91 L674.01 625.75 L675.97 626.02 L678.85 606.79 L680.94 617.25 L683.16 593.71 L685.12 593.06 L687.09 587.17 L689.05 570.43 L691.01 585.21 L693.89 580.63 L695.98 566.24 L698.2 583.25 L700.17 600.25 L702.13 597.37 L704.09 608.1 L707.36 598.29 L709.06 571.47 L711.28 596.33 L713.25 610.71 L715.21 616.6 L717.17 619.87 L720.05 620.13 L722.14 609.4 L724.1 604.83 L726.33 615.94 L728.29 621.83 L735.48 621.83 L737.44 620.52 L739.14 617.25 L740.71 624.45 L743.07 621.83 L745.03 604.83 L747.91 601.56 L750.13 600.64 L752.09 578.01 L754.45 587.17 L757.06 601.56 L759.94 617.51 L764.91 588.48 L766.87 596.33 L768.83 588.48 L770.8 597.63 L772.76 604.17 L776.03 608.1 L778.38 611.37 L779.95 606.13 L782.57 602.21 L783.88 596.33 L786.1 574.35 L787.8 591.09 L790.42 601.56 L792.38 604.83 L794.99 613.33 L796.96 598.94 L798.92 611.37 L801.14 615.29 L802.84 606.79 L808.07 598.29 L810.03 597.89 L812 585.21 L813.3 589.79 L815.92 592.79 L819.19 591.09 L821.15 593.71 L822.85 574.09 L827.04 582.59 L831.62 578.67 L833.97 574.09 L838.16 590.44 L840.12 581.28 L842.08 589.79 L844.04 603.52 L847.97 610.71 L850 613.98 L851.96 613.33 L855.23 613.07 L858.89 599.99 L861.77 614.64 L864.13 620.52 L867.66 614.64 L869.62 588.48 L872.24 553.16 L874.85 526.35 L877.21 540.08 L879.43 555.78 L881.13 581.68 L883.35 579.32 L885.05 582.98 L887.02 553.56 L889.89 554.47 L891.85 572.78 L894.21 597.37 L896.04 601.56 L897.74 594.36 L899.7 604.43 L901.66 598.29 L904.93 592.4 L906.9 604.17 L909.12 619.61 L910.82 607.84 L912.78 610.71 L915.01 619.61 L917.75 603.52 L919.98 604.43 L921.94 612.02 L924.29 617.25 L926.25 623.79 L928.09 625.1 L929.79 624.05 L932.4 617.25 L935.02 609.4 L937.37 593.71 L939.2 592.66 L941.16 606.79 L942.87 615.94 L946.13 613.98 L948.1 595.02 L950.06 597.89 L952.02 606.79 L953.98 609.14 L955.94 598.68 L957.91 606.13 L961.18 610.71 L963.14 610.97 L965.1 605.87 L967.06 607.44 L969.02 617.91 L970.99 621.18 L973.6 617.51 L975.56 598.94 L977.92 568.86 L979.88 555.39 L982.1 570.17 L984.07 565.33 L986.68 587.17 L989.04 599.6 L991 601.82 L992.96 596.59 L995.45 598.29 L997.15 592.66 L999.11 603.52 L1001.07 613.98 L1004.08 603.78 L1006.3 603.52 L1009.83 583.9 L1012.19 581.68 L1014.15 592.14 L1016.11 592.79 L1018.73 592.14 L1021.08 595.02 L1023.04 587.17 L1025 575.4 L1027.23 585.86 L1029.19 592.66 L1031.81 596.98 L1034.16 598.29 L1035.73 574.09 L1038.08 565.59 L1040.05 561.27 L1042.27 567.55 L1044.89 578.01 L1048.81 593.45 L1052.47 562.32 L1055.09 554.47 L1057.31 564.93 L1059.93 584.55 L1062.15 601.3 L1064.51 601.3 L1065.81 570.17" fill="none" stroke="#2f96c3" stroke-width="2" stroke-linejoin="round"/><rect x="304" y="659" width="762" height="2" fill="#bdbdbd"/><rect x="303.5" y="660" width="1" height="6" fill="#cfcfcf"/><rect x="430.5" y="660" width="1" height="6" fill="#cfcfcf"/><rect x="557.5" y="660" width="1" height="6" fill="#cfcfcf"/><rect x="684.5" y="660" width="1" height="6" fill="#cfcfcf"/><rect x="811.5" y="660" width="1" height="6" fill="#cfcfcf"/><rect x="938.5" y="660" width="1" height="6" fill="#cfcfcf"/><rect x="1065.5" y="660" width="1" height="6" fill="#cfcfcf"/></svg>
<div class="t" id="yl0" style="top:513.3px;font-size:12px;color:#606060;letter-spacing:0.035px;left:1086px;">22.5M</div>
<div class="t" id="yl1" style="top:549.8px;font-size:12px;color:#606060;letter-spacing:0.035px;left:1086px;">15.0M</div>
<div class="t" id="yl2" style="top:586.3px;font-size:12px;color:#606060;letter-spacing:-0.029px;left:1086px;">7.5M</div>
<div class="t" id="yl3" style="top:623.3px;font-size:12px;color:#606060;letter-spacing:-0.188px;left:1086px;">0</div>
<div class="t" id="xl0" style="top:670px;font-size:12px;color:#606060;letter-spacing:-0.200px;left:304px;">Apr 27, 2...</div>
<div class="t" id="xl1" style="top:670px;font-size:12px;color:#606060;letter-spacing:-0.082px;left:430.959px;transform:translateX(-50%);">Jun 25, 2025</div>
<div class="t" id="xl2" style="top:670px;font-size:12px;color:#606060;letter-spacing:-0.128px;left:557.936px;transform:translateX(-50%);">Aug 23, 2025</div>
<div class="t" id="xl3" style="top:670px;font-size:12px;color:#606060;letter-spacing:-0.156px;left:684.922px;transform:translateX(-50%);">Oct 21, 2025</div>
<div class="t" id="xl4" style="top:670px;font-size:12px;color:#606060;letter-spacing:-0.172px;left:811.914px;transform:translateX(-50%);">Dec 19, 2025</div>
<div class="t" id="xl5" style="top:670px;font-size:12px;color:#606060;letter-spacing:-0.203px;left:938.899px;transform:translateX(-50%);">Feb 16, 2026</div>
<div class="t" id="xl6" style="top:670px;font-size:12px;color:#606060;letter-spacing:-0.200px;right:840.2px;">Apr 16, 2...</div>
<div class="a" style="left:902.9px;top:637.400px;width:16px;height:15.600px;border-radius:2px;background:#4f4f4f"></div>
<div class="t" id="bd0" style="top:640px;font-size:10px;color:#fff;left:910.9px;transform:translateX(-50%);">9+</div>
<div class="a" style="left:924.48px;top:637.400px;width:16px;height:15.600px;border-radius:2px;background:#4f4f4f"></div>
<div class="t" id="bd1" style="top:640px;font-size:10px;color:#fff;left:932.48px;transform:translateX(-50%);">9+</div>
<div class="a" style="left:946.06px;top:637.400px;width:16px;height:15.600px;border-radius:2px;background:#4f4f4f"></div>
<div class="t" id="bd2" style="top:640px;font-size:10px;color:#fff;left:954.06px;transform:translateX(-50%);">9</div>
<div class="a" style="left:967.64px;top:637.400px;width:16px;height:15.600px;border-radius:2px;background:#4f4f4f"></div>
<div class="t" id="bd3" style="top:640px;font-size:10px;color:#fff;left:975.64px;transform:translateX(-50%);">9+</div>
<div class="a" style="left:989.22px;top:637.400px;width:16px;height:15.600px;border-radius:2px;background:#4f4f4f"></div>
<div class="t" id="bd4" style="top:640px;font-size:10px;color:#fff;left:997.22px;transform:translateX(-50%);">9+</div>
<div class="a" style="left:1010.8px;top:637.400px;width:16px;height:15.600px;border-radius:2px;background:#4f4f4f"></div>
<div class="t" id="bd5" style="top:640px;font-size:10px;color:#fff;left:1018.8px;transform:translateX(-50%);">9+</div>
<div class="a" style="left:1032.38px;top:637.400px;width:16px;height:15.600px;border-radius:2px;background:#4f4f4f"></div>
<div class="t" id="bd6" style="top:640px;font-size:10px;color:#fff;left:1040.38px;transform:translateX(-50%);">9+</div>
<div class="a" style="left:1053.96px;top:637.400px;width:16px;height:15.600px;border-radius:2px;background:#4f4f4f"></div>
<div class="t" id="bd7" style="top:640px;font-size:10px;color:#fff;left:1061.96px;transform:translateX(-50%);">4</div>
<div class="pill" style="left:304px;top:718px;width:90.500px;height:36px"></div>
<div class="t" id="seemore" style="top:728px;font-size:14.5px;-webkit-text-stroke:0.43px;letter-spacing:-0.611px;left:320.4px;">See more</div>
<div class="hl" style="left:681px;top:802.500px;width:82px"></div>
<div class="t" id="topc" style="top:852.3px;font-size:18px;-webkit-text-stroke:0.54px;letter-spacing:0.150px;left:721.975px;transform:translateX(-50%);">Your top content in this period</div>
<div class="t" id="th1" style="top:920.8px;font-size:12px;color:#606060;letter-spacing:-0.005px;left:295.3px;">Content</div>
<div class="t" id="th2" style="top:904.6px;font-size:12px;color:#606060;letter-spacing:-0.030px;right:867.33px;">Average view</div>
<div class="t" id="th3" style="top:920.8px;font-size:12px;color:#606060;letter-spacing:0.232px;right:867.068px;">duration</div>
<div class="t" id="th4" style="top:920.8px;font-size:12px;-webkit-text-stroke:0.36px;letter-spacing:0.051px;right:757.449px;">Views</div>
<div class="hl" style="left:279px;top:948px;width:886px"></div>
<div class="t" id="r1n" style="top:983.4px;font-size:13px;left:295.5px;">1</div>
<div class="a" style="left:319px;top:957px;width:119.200px;height:60px;border-radius:6.500px;background:#2f592b;overflow:hidden">
<svg style="left:41px;top:0" width="37" height="40" viewBox="0 0 37 40">
<defs><filter id="rtb" x="-5%" y="-5%" width="110%" height="110%"><feGaussianBlur stdDeviation="0.500"/></filter></defs>
<rect width="37" height="40" fill="#dfe8f2"/>
<g filter="url(#rtb)">
<path d="M14 8 L37 8 L37 20 C30 14 22 12 14 8 Z" fill="#a9c6e6"/>
<path d="M0 40 L0 19 L3 17 L6 21 L9 16 L12 15 L15 19 L18 21 L21 25 L24 16 L27 15 L30 18 L33 14 L37 13 L37 40 Z" fill="#3f6a2e"/>
<path d="M0 40 L0 24 L5 22 L10 25 L14 24 L18 28 L22 27 L26 22 L31 24 L37 21 L37 40 Z" fill="#2e5524"/>
<path d="M8 19 L11 17 L13 22 M26 18 L29 17 L31 22 M33 17 L36 16" stroke="#6e9a4a" stroke-width="1.600" fill="none"/>
<path d="M13 35 L21 24.500 L25 35 Z" fill="#b5c7d6"/>
<path d="M10 35 L21 24 L24 27" stroke="#1f4422" stroke-width="1.300" fill="none"/>
<rect x="34" y="29" width="3" height="6" fill="#d8c9a0"/>
<rect x="0" y="35" width="37" height="5" fill="#2f7a2a"/>
<rect x="11" y="32.500" width="12" height="2.600" fill="#e8e04a"/>
</g>
<rect width="37" height="7.800" fill="#030303"/>
</svg>
</div>
<div class="t" id="r1t" style="top:975.3px;font-size:13px;letter-spacing:-0.226px;left:454.6px;">Best Brother Ever</div>
<div class="t" id="r1heart" style="top:973.4px;font-size:17.5px;color:#e9382f;left:558.2px;font-family:'DejaVu Sans',sans-serif;transform-origin:50% 62%;transform:scale(1.02,1.4);">❤</div>
<div class="a" style="left:939.400px;top:972.700px;width:39.200px;height:6.600px;border-radius:3.300px;background:#787878"></div>
<div class="t" id="r1d" style="top:983.4px;font-size:13px;letter-spacing:-0.371px;left:952.9px;">0:28</div>
<div class="t" id="r1p" style="top:983.4px;font-size:13px;color:#606060;letter-spacing:-0.214px;left:988.1px;">(118.0%)</div>
<div class="t" id="r1v" style="top:983.4px;font-size:13px;letter-spacing:-0.253px;right:757.653px;">98,064,990</div>
<div class="card" style="left:1205px;top:261px;width:314px;height:571.500px"></div>
<div class="t" id="rt" style="top:278px;font-size:18px;-webkit-text-stroke:0.54px;letter-spacing:-0.090px;left:1222.6px;">Realtime</div>
<div class="a" style="left:1222.200px;top:305.700px;width:7.600px;height:7.600px;border-radius:4px;background:#2f96c3"></div>
<div class="t" id="upd" style="top:302px;font-size:13px;color:#606060;letter-spacing:-0.096px;left:1234.4px;">Updating live</div>
<div class="hl" style="left:1222px;top:334px;width:280px"></div>
<div class="t" id="subs" style="top:352.8px;font-size:18px;-webkit-text-stroke:0.54px;letter-spacing:-0.180px;left:1222.6px;">905,153</div>
<div class="t" id="subl" style="top:376.6px;font-size:13px;color:#606060;letter-spacing:-0.104px;left:1222.6px;">Subscribers</div>
<div class="pill" style="left:1222px;top:405px;width:119px;height:36px"></div>
<div class="t" id="slc" style="top:414.8px;font-size:14.5px;-webkit-text-stroke:0.43px;letter-spacing:-0.338px;left:1238.2px;">See live count</div>
<div class="hl" style="left:1222px;top:453.500px;width:280px"></div>
<div class="t" id="v48" style="top:472.2px;font-size:18px;-webkit-text-stroke:0.54px;letter-spacing:-0.122px;left:1222.6px;">27,006,049</div>
<div class="t" id="v48l" style="top:495.6px;font-size:13px;color:#606060;letter-spacing:-0.119px;left:1222.6px;">Views · Last 48 hours</div>
<svg style="left:0;top:0" width="1906" height="994" viewBox="0 0 1906 994"><path d="M1222.1 564 L1222.1 548.439 L1226.1 548.439 L1227.92 548.439 L1231.92 548.439 L1233.75 548.439 L1237.75 548.439 L1239.57 543.332 L1243.57 543.332 L1245.4 542.248 L1249.4 542.248 L1251.22 540.236 L1255.22 540.236 L1257.05 539.153 L1261.05 539.153 L1262.88 536.367 L1266.88 536.367 L1268.7 533.271 L1272.7 533.271 L1274.52 541.319 L1278.52 541.319 L1280.35 542.248 L1284.35 542.248 L1286.17 536.367 L1290.17 536.367 L1292 533.271 L1296 533.271 L1297.82 535.283 L1301.82 535.283 L1303.65 537.141 L1307.65 537.141 L1309.47 542.248 L1313.47 542.248 L1315.3 536.367 L1319.3 536.367 L1321.12 539.462 L1325.12 539.462 L1326.95 543.332 L1330.95 543.332 L1332.77 547.51 L1336.77 547.51 L1338.6 545.344 L1342.6 545.344 L1344.42 545.344 L1348.42 545.344 L1350.25 546.427 L1354.25 546.427 L1356.07 544.415 L1360.07 544.415 L1361.9 543.332 L1365.9 543.332 L1367.72 542.248 L1371.72 542.248 L1373.55 545.344 L1377.55 545.344 L1379.38 544.415 L1383.38 544.415 L1385.2 538.379 L1389.2 538.379 L1391.02 539.462 L1395.02 539.462 L1396.85 537.295 L1400.85 537.295 L1402.67 537.295 L1406.67 537.295 L1408.5 539.462 L1412.5 539.462 L1414.32 539.462 L1418.32 539.462 L1420.15 537.295 L1424.15 537.295 L1425.97 535.283 L1429.97 535.283 L1431.8 532.188 L1435.8 532.188 L1437.62 532.188 L1441.62 532.188 L1443.45 533.271 L1447.45 533.271 L1449.27 533.271 L1453.27 533.271 L1455.1 532.188 L1459.1 532.188 L1460.92 531.259 L1464.92 531.259 L1466.75 532.188 L1470.75 532.188 L1472.57 535.283 L1476.57 535.283 L1478.4 537.295 L1482.4 537.295 L1484.22 533.271 L1488.22 533.271 L1490.05 532.188 L1494.05 532.188 L1495.88 555.249 L1499.88 555.249 L1499.88 564 Z" fill="#3ea0cc" fill-opacity="0.22"/><path d="M1222.1 564 V549.439 Q1222.1 547.439 1224.1 547.439 Q1226.1 547.439 1226.1 549.439 V564 Z" fill="#2f96c3"/><path d="M1227.92 564 V549.439 Q1227.92 547.439 1229.92 547.439 Q1231.92 547.439 1231.92 549.439 V564 Z" fill="#2f96c3"/><path d="M1233.75 564 V549.439 Q1233.75 547.439 1235.75 547.439 Q1237.75 547.439 1237.75 549.439 V564 Z" fill="#2f96c3"/><path d="M1239.57 564 V544.332 Q1239.57 542.332 1241.57 542.332 Q1243.57 542.332 1243.57 544.332 V564 Z" fill="#2f96c3"/><path d="M1245.4 564 V543.248 Q1245.4 541.248 1247.4 541.248 Q1249.4 541.248 1249.4 543.248 V564 Z" fill="#2f96c3"/><path d="M1251.22 564 V541.236 Q1251.22 539.236 1253.22 539.236 Q1255.22 539.236 1255.22 541.236 V564 Z" fill="#2f96c3"/><path d="M1257.05 564 V540.153 Q1257.05 538.153 1259.05 538.153 Q1261.05 538.153 1261.05 540.153 V564 Z" fill="#2f96c3"/><path d="M1262.88 564 V537.367 Q1262.88 535.367 1264.88 535.367 Q1266.88 535.367 1266.88 537.367 V564 Z" fill="#2f96c3"/><path d="M1268.7 564 V534.271 Q1268.7 532.271 1270.7 532.271 Q1272.7 532.271 1272.7 534.271 V564 Z" fill="#2f96c3"/><path d="M1274.52 564 V542.319 Q1274.52 540.319 1276.52 540.319 Q1278.52 540.319 1278.52 542.319 V564 Z" fill="#2f96c3"/><path d="M1280.35 564 V543.248 Q1280.35 541.248 1282.35 541.248 Q1284.35 541.248 1284.35 543.248 V564 Z" fill="#2f96c3"/><path d="M1286.17 564 V537.367 Q1286.17 535.367 1288.17 535.367 Q1290.17 535.367 1290.17 537.367 V564 Z" fill="#2f96c3"/><path d="M1292 564 V534.271 Q1292 532.271 1294 532.271 Q1296 532.271 1296 534.271 V564 Z" fill="#2f96c3"/><path d="M1297.82 564 V536.283 Q1297.82 534.283 1299.82 534.283 Q1301.82 534.283 1301.82 536.283 V564 Z" fill="#2f96c3"/><path d="M1303.65 564 V538.141 Q1303.65 536.141 1305.65 536.141 Q1307.65 536.141 1307.65 538.141 V564 Z" fill="#2f96c3"/><path d="M1309.47 564 V543.248 Q1309.47 541.248 1311.47 541.248 Q1313.47 541.248 1313.47 543.248 V564 Z" fill="#2f96c3"/><path d="M1315.3 564 V537.367 Q1315.3 535.367 1317.3 535.367 Q1319.3 535.367 1319.3 537.367 V564 Z" fill="#2f96c3"/><path d="M1321.12 564 V540.462 Q1321.12 538.462 1323.12 538.462 Q1325.12 538.462 1325.12 540.462 V564 Z" fill="#2f96c3"/><path d="M1326.95 564 V544.332 Q1326.95 542.332 1328.95 542.332 Q1330.95 542.332 1330.95 544.332 V564 Z" fill="#2f96c3"/><path d="M1332.77 564 V548.51 Q1332.77 546.51 1334.77 546.51 Q1336.77 546.51 1336.77 548.51 V564 Z" fill="#2f96c3"/><path d="M1338.6 564 V546.344 Q1338.6 544.344 1340.6 544.344 Q1342.6 544.344 1342.6 546.344 V564 Z" fill="#2f96c3"/><path d="M1344.42 564 V546.344 Q1344.42 544.344 1346.42 544.344 Q1348.42 544.344 1348.42 546.344 V564 Z" fill="#2f96c3"/><path d="M1350.25 564 V547.427 Q1350.25 545.427 1352.25 545.427 Q1354.25 545.427 1354.25 547.427 V564 Z" fill="#2f96c3"/><path d="M1356.07 564 V545.415 Q1356.07 543.415 1358.07 543.415 Q1360.07 543.415 1360.07 545.415 V564 Z" fill="#2f96c3"/><path d="M1361.9 564 V544.332 Q1361.9 542.332 1363.9 542.332 Q1365.9 542.332 1365.9 544.332 V564 Z" fill="#2f96c3"/><path d="M1367.72 564 V543.248 Q1367.72 541.248 1369.72 541.248 Q1371.72 541.248 1371.72 543.248 V564 Z" fill="#2f96c3"/><path d="M1373.55 564 V546.344 Q1373.55 544.344 1375.55 544.344 Q1377.55 544.344 1377.55 546.344 V564 Z" fill="#2f96c3"/><path d="M1379.38 564 V545.415 Q1379.38 543.415 1381.38 543.415 Q1383.38 543.415 1383.38 545.415 V564 Z" fill="#2f96c3"/><path d="M1385.2 564 V539.379 Q1385.2 537.379 1387.2 537.379 Q1389.2 537.379 1389.2 539.379 V564 Z" fill="#2f96c3"/><path d="M1391.02 564 V540.462 Q1391.02 538.462 1393.02 538.462 Q1395.02 538.462 1395.02 540.462 V564 Z" fill="#2f96c3"/><path d="M1396.85 564 V538.295 Q1396.85 536.295 1398.85 536.295 Q1400.85 536.295 1400.85 538.295 V564 Z" fill="#2f96c3"/><path d="M1402.67 564 V538.295 Q1402.67 536.295 1404.67 536.295 Q1406.67 536.295 1406.67 538.295 V564 Z" fill="#2f96c3"/><path d="M1408.5 564 V540.462 Q1408.5 538.462 1410.5 538.462 Q1412.5 538.462 1412.5 540.462 V564 Z" fill="#2f96c3"/><path d="M1414.32 564 V540.462 Q1414.32 538.462 1416.32 538.462 Q1418.32 538.462 1418.32 540.462 V564 Z" fill="#2f96c3"/><path d="M1420.15 564 V538.295 Q1420.15 536.295 1422.15 536.295 Q1424.15 536.295 1424.15 538.295 V564 Z" fill="#2f96c3"/><path d="M1425.97 564 V536.283 Q1425.97 534.283 1427.97 534.283 Q1429.97 534.283 1429.97 536.283 V564 Z" fill="#2f96c3"/><path d="M1431.8 564 V533.188 Q1431.8 531.188 1433.8 531.188 Q1435.8 531.188 1435.8 533.188 V564 Z" fill="#2f96c3"/><path d="M1437.62 564 V533.188 Q1437.62 531.188 1439.62 531.188 Q1441.62 531.188 1441.62 533.188 V564 Z" fill="#2f96c3"/><path d="M1443.45 564 V534.271 Q1443.45 532.271 1445.45 532.271 Q1447.45 532.271 1447.45 534.271 V564 Z" fill="#2f96c3"/><path d="M1449.27 564 V534.271 Q1449.27 532.271 1451.27 532.271 Q1453.27 532.271 1453.27 534.271 V564 Z" fill="#2f96c3"/><path d="M1455.1 564 V533.188 Q1455.1 531.188 1457.1 531.188 Q1459.1 531.188 1459.1 533.188 V564 Z" fill="#2f96c3"/><path d="M1460.92 564 V532.259 Q1460.92 530.259 1462.92 530.259 Q1464.92 530.259 1464.92 532.259 V564 Z" fill="#2f96c3"/><path d="M1466.75 564 V533.188 Q1466.75 531.188 1468.75 531.188 Q1470.75 531.188 1470.75 533.188 V564 Z" fill="#2f96c3"/><path d="M1472.57 564 V536.283 Q1472.57 534.283 1474.57 534.283 Q1476.57 534.283 1476.57 536.283 V564 Z" fill="#2f96c3"/><path d="M1478.4 564 V538.295 Q1478.4 536.295 1480.4 536.295 Q1482.4 536.295 1482.4 538.295 V564 Z" fill="#2f96c3"/><path d="M1484.22 564 V534.271 Q1484.22 532.271 1486.22 532.271 Q1488.22 532.271 1488.22 534.271 V564 Z" fill="#2f96c3"/><path d="M1490.05 564 V533.188 Q1490.05 531.188 1492.05 531.188 Q1494.05 531.188 1494.05 533.188 V564 Z" fill="#2f96c3"/><path d="M1495.88 564 V556.249 Q1495.88 554.249 1497.88 554.249 Q1499.88 554.249 1499.88 556.249 V564 Z" fill="#2f96c3"/><rect x="1222" y="563.700" width="280" height="1" fill="#cfcfcf"/><rect x="1222" y="564" width="1" height="6" fill="#dcdcdc"/><rect x="1501" y="564" width="1" height="6" fill="#dcdcdc"/></svg>
<div class="t" id="m48" style="top:573.7px;font-size:12px;color:#606060;letter-spacing:-0.310px;left:1222.1px;">-48h</div>
<div class="t" id="now" style="top:573.7px;font-size:12px;color:#606060;letter-spacing:-0.258px;right:404.958px;">Now</div>
<div class="t" id="tc" style="top:613.1px;font-size:12px;color:#606060;letter-spacing:0.265px;left:1222.2px;">Top content</div>
<div class="t" id="tcv" style="top:613.1px;font-size:12px;color:#606060;letter-spacing:0.076px;right:404.124px;">Views</div>
<div class="a" style="left:1222.100px;top:647.9px;width:55.900px;height:31.800px;border-radius:4px;background:linear-gradient(90deg,#53545f 0,#4a4952 100%);overflow:hidden"><svg style="left:18.800px;top:0" width="18.200" height="31.800" viewBox="0 0 18.500 31.700" preserveAspectRatio="none"><g filter="url(#thb)"><rect width="18.500" height="31.700" fill="#171a2b"/><rect x="0" y="20.500" width="18.500" height="11.200" fill="#bcd6ee"/><path d="M0 3 L6.500 4 L5 14 L0 17 Z" fill="#f1e6ea"/><circle cx="2.300" cy="9" r="2.300" fill="#d6283a"/><path d="M9 1 L9.800 14" stroke="#d98a4a" stroke-width="0.900"/><path d="M10.500 6 C12.500 5.500 14 7.500 13.600 11 L13 18 L11.600 30 L9.800 30 L10.400 19 L9 12 Z" fill="#3b3358"/><circle cx="11.600" cy="5" r="1.500" fill="#d8b09a"/><path d="M14 15 L16.500 16 L15.500 19.500 L13.500 18.500 Z" fill="#c24a2a"/><path d="M6 14.800 L10.500 14.200" stroke="#4fb7b0" stroke-width="1.200"/></g></svg><div class="a" style="left:37.800px;top:13.800px;width:16.200px;height:16.400px;border-radius:2.500px;background:#fff"></div><svg style="left:41.200px;top:17.300px" width="9.400" height="9.400" viewBox="2.500 0.800 11 13.700"><path d="M9.600 1.300 C10.800 0.600 12.300 1.100 12.900 2.300 C13.500 3.500 13 5 11.800 5.600 L10.800 6.100 C11.900 6.200 12.800 6.800 13.200 7.700 C13.800 8.900 13.300 10.400 12.100 11 L6.400 14 C5.200 14.600 3.700 14.200 3.100 13 C2.500 11.800 3 10.300 4.200 9.700 L5.200 9.200 C4.100 9.100 3.200 8.500 2.800 7.600 C2.200 6.400 2.700 4.900 3.900 4.300 Z" fill="#f5233a"/></svg></div>
<div class="t" id="tr0" style="top:656.1px;font-size:13px;letter-spacing:-0.252px;left:1290.5px;">The Iceskater Who ...</div>
<div class="t" id="tv0" style="top:656.1px;font-size:13px;letter-spacing:-0.253px;right:404.453px;">12,795,770</div>
<div class="a" style="left:1222.100px;top:688px;width:55.900px;height:31.800px;border-radius:4px;background:linear-gradient(90deg,#695541 0,#6f5a46 100%);overflow:hidden"><svg style="left:18.800px;top:0" width="18.200" height="31.800" viewBox="0 0 18.500 31.700" preserveAspectRatio="none"><g filter="url(#thb)"><rect width="18.500" height="31.700" fill="#8f9996"/><rect x="0" y="0" width="18.500" height="6" fill="#b9c3c0"/><path d="M0 16 C3 12.500 15 12.500 18.500 16 L18.500 26 L0 26 Z" fill="#e3ded5"/><ellipse cx="9" cy="8.500" rx="4.600" ry="5.800" fill="#b5826a"/><path d="M4.600 6 C5.500 2.500 12.500 2.500 13.400 6 C11 4.600 7 4.600 4.600 6 Z" fill="#4a3b34"/><path d="M7 14.600 L11.500 14.600" stroke="#5fd068" stroke-width="1.200"/><rect x="0" y="25.500" width="18.500" height="6.200" fill="#141414"/><rect x="11.500" y="17" width="3.600" height="6" fill="#b79a78"/><rect x="13" y="24" width="3.200" height="4" fill="#3c4a8c"/></g></svg><div class="a" style="left:37.800px;top:13.800px;width:16.200px;height:16.400px;border-radius:2.500px;background:#fff"></div><svg style="left:41.200px;top:17.300px" width="9.400" height="9.400" viewBox="2.500 0.800 11 13.700"><path d="M9.600 1.300 C10.800 0.600 12.300 1.100 12.900 2.300 C13.500 3.500 13 5 11.800 5.600 L10.800 6.100 C11.900 6.200 12.800 6.800 13.200 7.700 C13.800 8.900 13.300 10.400 12.100 11 L6.400 14 C5.200 14.600 3.700 14.200 3.100 13 C2.500 11.800 3 10.300 4.200 9.700 L5.200 9.200 C4.100 9.100 3.200 8.500 2.800 7.600 C2.200 6.400 2.700 4.900 3.900 4.300 Z" fill="#f5233a"/></svg></div>
<div class="t" id="tr1" style="top:696.2px;font-size:13px;letter-spacing:-0.278px;left:1290.5px;">They Surprised Their ...</div>
<div class="t" id="tv1" style="top:696.2px;font-size:13px;letter-spacing:-0.230px;right:404.43px;">2,735,402</div>
<div class="a" style="left:1222.100px;top:728.1px;width:55.900px;height:31.800px;border-radius:4px;background:linear-gradient(90deg,#8b5a24 0,#8a5c2a 100%);overflow:hidden"><svg style="left:18.800px;top:0" width="18.200" height="31.800" viewBox="0 0 18.500 31.700" preserveAspectRatio="none"><g filter="url(#thb)"><rect width="18.500" height="31.700" fill="#d6cd7c"/><rect width="18.500" height="9" fill="#3a2a16"/><ellipse cx="8" cy="7.500" rx="4" ry="4.600" fill="#5b3419"/><path d="M6 11 L6.500 14 M10 11 L9.600 14" stroke="#4a2a14" stroke-width="1"/><path d="M0 8 L18.500 6.500" stroke="#56603a" stroke-width="1"/><path d="M6 15.500 L11 16.200" stroke="#6fc0a8" stroke-width="1.200"/><path d="M7 17 L10 21 L12.500 20" stroke="#34507a" stroke-width="1.800" fill="none"/><ellipse cx="11" cy="22.500" rx="2" ry="1.400" fill="#2d4a34"/><rect y="27" width="18.500" height="4.700" fill="#c9bf70"/></g></svg><div class="a" style="left:37.800px;top:13.800px;width:16.200px;height:16.400px;border-radius:2.500px;background:#fff"></div><svg style="left:41.200px;top:17.300px" width="9.400" height="9.400" viewBox="2.500 0.800 11 13.700"><path d="M9.600 1.300 C10.800 0.600 12.300 1.100 12.900 2.300 C13.500 3.500 13 5 11.800 5.600 L10.800 6.100 C11.900 6.200 12.800 6.800 13.200 7.700 C13.800 8.900 13.300 10.400 12.100 11 L6.400 14 C5.200 14.600 3.700 14.200 3.100 13 C2.500 11.800 3 10.300 4.200 9.700 L5.200 9.200 C4.100 9.100 3.200 8.500 2.800 7.600 C2.200 6.400 2.700 4.900 3.900 4.300 Z" fill="#f5233a"/></svg></div>
<div class="t" id="tr2" style="top:736px;font-size:13px;letter-spacing:-0.292px;left:1290.5px;">The Kindest Lion Eve...</div>
<div class="t" id="tv2" style="top:736px;font-size:13px;letter-spacing:-0.293px;right:404.493px;">1,203,503</div>
<svg width="0" height="0" style="left:0;top:0"><defs><filter id="thb" x="-5%" y="-5%" width="110%" height="110%"><feGaussianBlur stdDeviation="0.350"/></filter></defs></svg>
<div class="pill" style="left:1222.200px;top:780px;width:90.500px;height:36px"></div>
<div class="t" id="seemore2" style="top:789.8px;font-size:14.5px;-webkit-text-stroke:0.43px;letter-spacing:-0.525px;left:1238.1px;">See more</div>
<div class="card" style="left:1205px;top:849px;width:314px;height:300px"></div>
<div class="t" id="lc" style="top:866.1px;font-size:18px;-webkit-text-stroke:0.54px;letter-spacing:0.154px;left:1222.5px;">Latest content</div>
<div class="a" style="left:1222px;top:898px;width:280px;height:158px;border-radius:8px;overflow:hidden;background:linear-gradient(#545454 0,#2d2d2d 96px)">
<div class="a" style="left:199px;top:0;width:81px;height:158px;background:linear-gradient(90deg,#5a5e63 0,#666c73 40%,#5d6268 100%)"></div>
<div class="a" style="left:199px;top:0;width:81px;height:158px;background:linear-gradient(rgba(0,0,0,0) 0,rgba(0,0,0,.38) 96px)"></div>
<div class="a" style="left:81px;top:0;width:117.700px;height:158px;background:linear-gradient(#b2cde3 0,#c3d9e8 45px,#b3cad9 96px)"></div>
<svg style="left:81px;top:0" width="118" height="100" viewBox="0 0 118 100">
<defs><filter id="lcb" x="-10%" y="-10%" width="120%" height="120%"><feGaussianBlur stdDeviation="0.600"/></filter></defs>
<g filter="url(#lcb)">
<path d="M56 58 C60 50 68 46 74 30 C80 26 88 32 88 44 C89 52 92 58 88 62 L70 64 Z" fill="#b4602a"/>
<path d="M72 28 C80 25 87 31 87 42 C86 36 80 32 74 33 Z" fill="#c9773a"/>
<ellipse cx="70" cy="42" rx="7.500" ry="10" fill="#d7a78c"/>
<path d="M63 36 C66 30 74 29 78 36 C74 33 68 33 63 36 Z" fill="#b4602a"/>
<path d="M64.500 40 L68 40 M72 40.500 L75.500 40.500" stroke="#5a3a2a" stroke-width="1.200"/>
<path d="M67 47.500 Q69.500 48.500 72 47.500" stroke="#b06a5a" stroke-width="1.300" fill="none"/>
<path d="M52 70 C54 60 64 55 76 56 C86 57 92 62 93 72 L93 100 L54 100 C52 90 51 80 52 70 Z" fill="#858b91"/>
<path d="M60 62 L66 66 M72 60 L76 66 M82 62 L84 70 M58 74 L64 80 M70 72 L74 80 M80 76 L86 82 M62 86 L68 92 M76 86 L80 94" stroke="#b9bec3" stroke-width="1.600" opacity=".7"/>
<path d="M88 66 C92 70 95 78 95 84 L90 86 L86 76 Z" fill="#cf9d80"/>
<path d="M75 84 C80 80 86 82 87 87 C86 92 80 93 76 91 Z" fill="#d3a286"/>
<path d="M0 28 C4 28 6 32 6 40 L6 50 L0 50 Z" fill="#4a2a14"/>
<path d="M0 32 C10 28 24 30 36 40 C48 52 58 70 74 100 L0 100 Z" fill="#bf6f2e"/>
<path d="M0 44 C8 46 14 52 18 64 C22 78 20 90 18 100 L0 100 Z" fill="#5e2e12"/>
<path d="M18 64 C26 70 30 84 30 100 L18 100 C20 90 22 78 18 64 Z" fill="#8a4518"/>
<path d="M8 32 C22 36 36 54 46 84 M16 31 C30 38 44 58 56 90 M24 33 C38 42 52 62 66 96 M12 38 C20 46 28 60 34 78" stroke="#dfa968" stroke-width="2.400" fill="none" opacity=".85"/>
<path d="M20 34 C32 42 44 60 54 86" stroke="#a85a22" stroke-width="1.600" fill="none" opacity=".8"/>
<path d="M6 72 L9 74" stroke="#e8e8e8" stroke-width="1.400"/>
</g></svg>
<div class="t" style="left:110.800px;top:73.200px;font-size:9px;font-weight:700;color:#fff;transform-origin:0 50%;transform:scaleX(.81);text-shadow:0 0 2px rgba(0,0,0,.8)">BUT <span style="color:#d3202a">WHEN</span> SHE</div>
</div>
</body></html>
